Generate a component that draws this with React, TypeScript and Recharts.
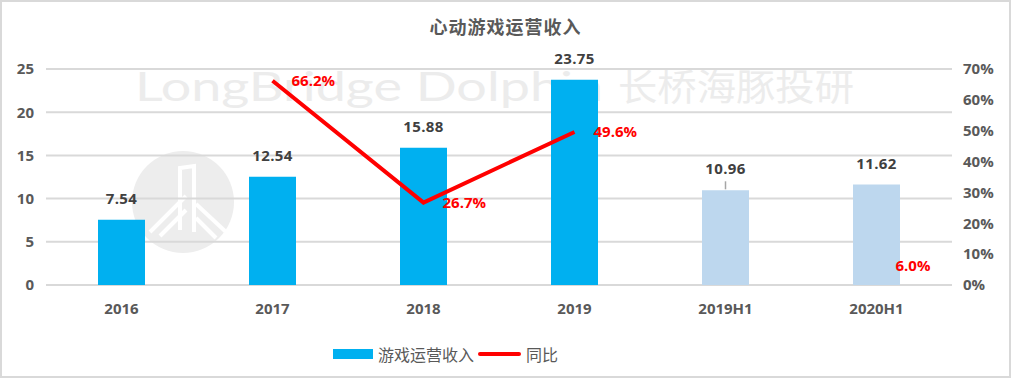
import React from "react";
import {
  ComposedChart,
  Bar,
  Line,
  XAxis,
  YAxis,
  CartesianGrid,
  Cell,
  LabelList,
  Legend,
} from "recharts";

const categories = ["2016", "2017", "2018", "2019", "2019H1", "2020H1"];
const revenue = [7.54, 12.54, 15.88, 23.75, 10.96, 11.62];
const yoy: (number | null)[] = [null, 66.2, 26.7, 49.6, null, 6.0];
const leftTicks = [0, 5, 10, 15, 20, 25];
const rightTicks = [0, 10, 20, 30, 40, 50, 60, 70];
const leaderLineCategories = ["2019H1"];

const data = categories.map((c, i) => ({
  name: c,
  revenue: revenue[i],
  yoy: yoy[i],
}));

const W = 1011;
const H = 378;
const BLUE = "#00b0f0";
const LIGHT = "#bdd7ee";
const RED = "#ff0000";
const FONT = '"Open Sans", "Noto Sans CJK SC", sans-serif';

const BarLabel = (props: any) => {
  const { x, y, width, value, index } = props;
  const cx = x + width / 2;
  const lead = leaderLineCategories.includes(categories[index]);
  return (
    <g>
      {lead && (
        <line x1={cx} x2={cx} y1={y - 1} y2={y - 9} stroke="#a6a6a6" strokeWidth={1.5} />
      )}
      <text
        x={cx}
        y={y - 16}
        textAnchor="middle"
        fontSize={15}
        fontWeight="bold"
        fill="#404040"
        fontFamily={FONT}
        letterSpacing={0.4}
      >
        {value.toFixed(2)}
      </text>
    </g>
  );
};

const LineLabel = (props: any) => {
  const { x, y, value } = props;
  if (value == null) return null;
  return (
    <text
      x={x + 19}
      y={y + 5}
      textAnchor="start"
      fontSize={15}
      fontWeight="bold"
      fill={RED}
      fontFamily={FONT}
    >
      {`${Number(value).toFixed(1)}%`}
    </text>
  );
};

const LegendContent = () => (
  <div
    style={{
      display: "flex",
      justifyContent: "flex-start",
      alignItems: "center",
      fontFamily: FONT,
      fontSize: 16,
      color: "#595959",
      paddingLeft: 333,
    }}
  >
    <span style={{ display: "inline-block", width: 40, height: 10, background: BLUE, marginRight: 5 }} />
    <span style={{ marginRight: 4 }}>游戏运营收入</span>
    <span style={{ display: "inline-block", width: 43, height: 4, background: RED, borderRadius: 2, marginRight: 5 }} />
    <span>同比</span>
  </div>
);

const tickStyle = { fontSize: 15, fontWeight: "bold", fill: "#595959", fontFamily: FONT };

export default function App() {
  return (
    <div style={{ position: "absolute", left: 0, top: 0, width: W, height: H, background: "#fff" }}>
      <svg width={W} height={H} style={{ position: "absolute", left: 0, top: 0 }}>
        <text
          x={135}
          y={101}
          fontSize={40}
          fontFamily="Lato, sans-serif"
          fill="#ececec"
          textLength={468}
          lengthAdjust="spacingAndGlyphs"
        >
          LongBridge Dolphin
        </text>
        <text
          x={618}
          y={101}
          fontSize={37}
          fontFamily='"Noto Sans CJK SC", sans-serif'
          fill="#ececec"
          textLength={236}
          lengthAdjust="spacingAndGlyphs"
        >
          长桥海豚投研
        </text>
        <circle cx={183} cy={202} r={51} fill="#ededed" />
        <g stroke="#fff" strokeWidth={4} fill="none">
          <path d="M180 230 L180 168 L194 166 L194 232" />
          <path d="M186 196 L150 232" />
          <path d="M186 210 L160 236" />
          <path d="M196 204 L226 232" />
          <path d="M196 218 L216 238" />
        </g>
        <text
          x={505.5}
          y={34}
          textAnchor="middle"
          fontSize={18}
          fontWeight="bold"
          fontFamily='"Noto Sans CJK SC", sans-serif'
          fill="#595959"
          letterSpacing={1}
        >
          心动游戏运营收入
        </text>
      </svg>
      <div style={{ position: "absolute", left: 0, top: 0 }}>
        <ComposedChart
          width={W}
          height={H}
          data={data}
          margin={{ top: 69, right: 0, bottom: 63, left: 0 }}
          style={{ fontFamily: FONT }}
        >
          <CartesianGrid vertical={false} stroke="#d9d9d9" strokeWidth={2} yAxisId="left" />
          <XAxis
            dataKey="name"
            axisLine={false}
            tickLine={false}
            height={30}
            tickMargin={12}
            tick={tickStyle}
            interval={0}
          />
          <YAxis
            yAxisId="left"
            domain={[0, 25]}
            ticks={leftTicks}
            width={46}
            axisLine={false}
            tickLine={false}
            tickMargin={6}
            tick={tickStyle}
          />
          <YAxis
            yAxisId="right"
            orientation="right"
            domain={[0, 70]}
            ticks={rightTicks}
            width={59}
            axisLine={false}
            tickLine={false}
            tickMargin={5}
            tickFormatter={(v: number) => `${v}%`}
            tick={tickStyle}
          />
          <Bar yAxisId="left" dataKey="revenue" name="游戏运营收入" barSize={47} isAnimationActive={false}>
            {data.map((d) => (
              <Cell key={d.name} fill={d.name.includes("H1") ? LIGHT : BLUE} />
            ))}
            <LabelList dataKey="revenue" content={<BarLabel />} />
          </Bar>
          <Line
            yAxisId="right"
            dataKey="yoy"
            name="同比"
            stroke={RED}
            strokeWidth={4}
            dot={false}
            activeDot={false}
            connectNulls={false}
            isAnimationActive={false}
          >
            <LabelList dataKey="yoy" content={<LineLabel />} />
          </Line>
          <Legend
            layout="horizontal"
            verticalAlign="middle"
            align="center"
            content={<LegendContent />}
            wrapperStyle={{ position: "absolute", top: 342, left: 0, width: W }}
          />
        </ComposedChart>
      </div>
      <div
        style={{
          position: "absolute",
          left: 0,
          top: 0,
          width: W,
          height: H,
          boxSizing: "border-box",
          border: "2px solid #d9d9d9",
          pointerEvents: "none",
        }}
      />
    </div>
  );
}
